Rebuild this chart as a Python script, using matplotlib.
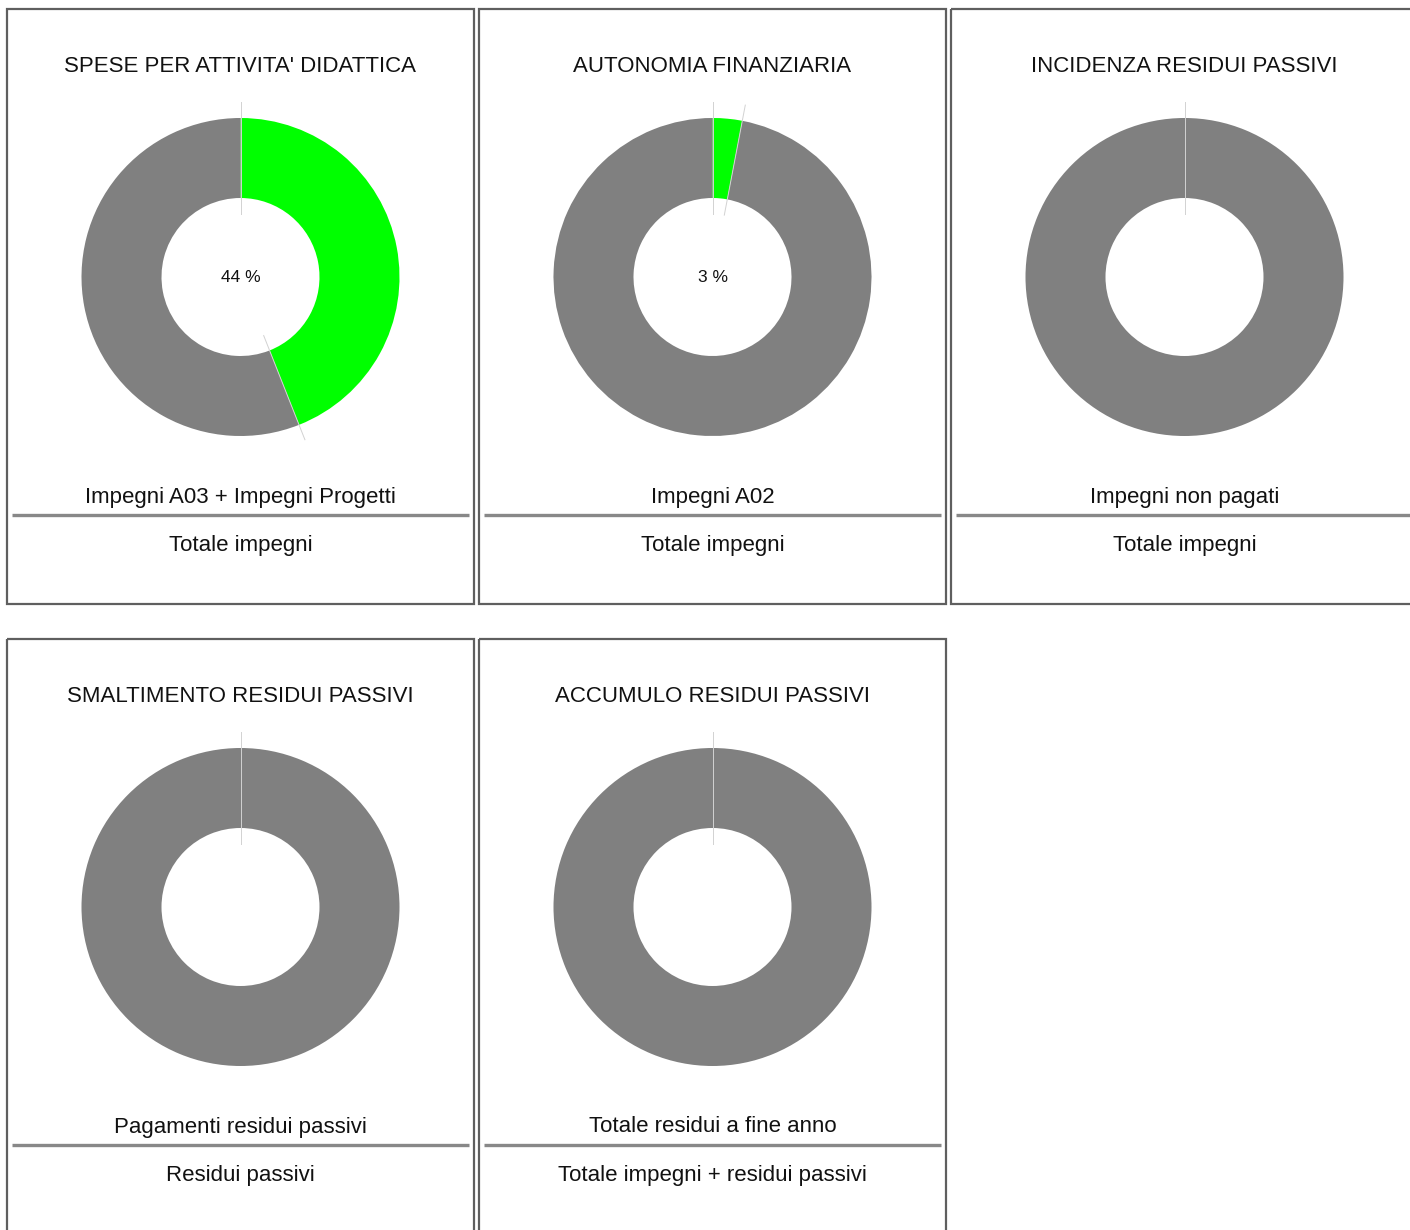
"""
Dashboard of budget indicators: one donut per indicator, drawn in a grid of
bordered panels with the ratio definition (numerator over denominator) below.
"""

import matplotlib
matplotlib.use("Agg")
import matplotlib.pyplot as plt
import numpy as np
from matplotlib.patches import Rectangle

TITLES = [
    "SPESE PER ATTIVITA' DIDATTICA",
    "AUTONOMIA FINANZIARIA",
    "INCIDENZA RESIDUI PASSIVI",
    "SMALTIMENTO RESIDUI PASSIVI",
    "ACCUMULO RESIDUI PASSIVI",
]
NUMERATORS = [
    "Impegni A03 + Impegni Progetti",
    "Impegni A02",
    "Impegni non pagati",
    "Pagamenti residui passivi",
    "Totale residui a fine anno",
]
DENOMINATORS = [
    "Totale impegni",
    "Totale impegni",
    "Totale impegni",
    "Residui passivi",
    "Totale impegni + residui passivi",
]
PERCENTS = [44, 3, 0, 0, 0]
SHOW_LABEL = [True, True, False, False, False]

GREEN = "#00ff00"
GREY = "#808080"
W, H = 1410, 1230

# panel geometry (pixels)
PANEL_W, PANEL_H = 467, 595
PITCH_X, PITCH_Y = 472, 630
X0, Y0 = 7, 9
R_OUT, R_IN = 159, 79

fig = plt.figure(figsize=(W / 100, H / 100), dpi=100)
ax = fig.add_axes([0, 0, 1, 1])
ax.set_xlim(0, W)
ax.set_ylim(H, 0)
ax.set_aspect("equal")
ax.axis("off")

FONT = "Liberation Sans"
TXT = 16.0

for i, title in enumerate(TITLES):
    row, col = divmod(i, 3)
    left = X0 + col * PITCH_X
    top = Y0 + row * PITCH_Y
    cx = left + PANEL_W / 2
    cy = top + 268

    ax.add_patch(Rectangle((left, top), PANEL_W, PANEL_H, fill=False,
                           edgecolor="#5f5f5f", linewidth=1.6, zorder=1))

    ax.text(cx, top + 58, title, ha="center", va="center",
            fontsize=TXT, family=FONT, color="#111111")

    pct = PERCENTS[i]
    # y axis is inverted, so counterclockwise in data reads clockwise on screen
    ax.pie([pct, 100 - pct], colors=[GREEN, GREY], center=(cx, cy),
           radius=R_OUT, startangle=270, counterclock=True,
           wedgeprops=dict(width=R_OUT - R_IN, linewidth=0),
           frame=True)

    # faint guide lines along the slice boundaries
    for frac in sorted({0, pct / 100}):
        theta = 2 * np.pi * frac
        dx, dy = np.sin(theta), -np.cos(theta)
        ax.plot([cx + 63 * dx, cx + 175 * dx], [cy + 63 * dy, cy + 175 * dy],
                color="#d2d2d2", linewidth=0.7, zorder=3)

    if SHOW_LABEL[i]:
        ax.text(cx, cy, f"{pct} %", ha="center", va="center",
                fontsize=12.5, family=FONT, color="#111111")

    ax.text(cx, top + 488, NUMERATORS[i], ha="center", va="center",
            fontsize=TXT, family=FONT, color="#111111")
    ax.plot([left + 5, left + PANEL_W - 5], [top + 506, top + 506],
            color="#888888", linewidth=2.4, solid_capstyle="butt", zorder=2)
    ax.text(cx, top + 537, DENOMINATORS[i], ha="center", va="center",
            fontsize=TXT, family=FONT, color="#111111")

ax.set_xlim(0, W)
ax.set_ylim(H, 0)
ax.axis("off")

fig.savefig("out.png", dpi=100)
